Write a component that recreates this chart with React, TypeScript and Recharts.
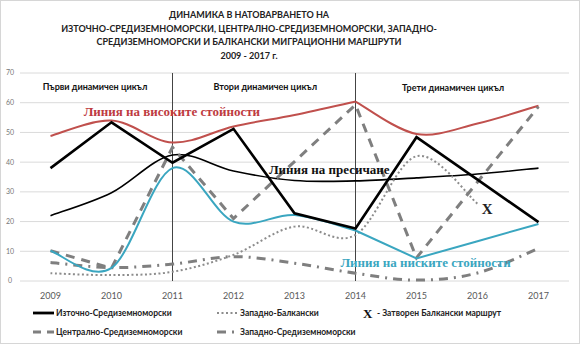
import React from "react"
import {
  LineChart,
  Line,
  XAxis,
  YAxis,
  CartesianGrid,
  ReferenceLine,
  ReferenceDot,
} from "recharts"

const years = [2009, 2010, 2011, 2012, 2013, 2014, 2015, 2016, 2017]
const yTicks = [0, 10, 20, 30, 40, 50, 60, 70]

const eastMed = [38, 53.4, 39.8, 51.2, 22.8, 17.7, 48.4, 34.1, 19.8]
const westBalkan = [2.6, 2, 3.1, 8.8, 18.3, 15.5, 42, 26, null]
const centralMed = [10.2, 4.3, 45, 21, 40.2, 59.3, 7.8, 33.3, 58.7]
const westMed = [6.2, 4.5, 5.7, 8.2, 6, 2.6, 0.3, 2.7, 11]

// hand-drawn guide lines on top of the series
const highLine = [48.8, 54, 46.6, 52, 55.9, 60.4, 49.5, 53, 59]
const crossLine = [22, 29.7, 42.4, 37, 33.8, 33.7, 34.7, 36, 38]
const lowLine = [10.2, 4.4, 38, 20, 22.2, 17, 7.6, 13.4, 19.2]

const titleLines = [
  "ДИНАМИКА В НАТОВАРВАНЕТО НА",
  "ИЗТОЧНО-СРЕДИЗЕМНОМОРСКИ, ЦЕНТРАЛНО-СРЕДИЗЕМНОМОРСКИ, ЗАПАДНО-",
  "СРЕДИЗЕМНОМОРСКИ И БАЛКАНСКИ МИГРАЦИОННИ МАРШРУТИ",
  "2009 - 2017 г.",
]

const cycles = [
  { x: 2009.73, y: 65.3, text: "Първи динамичен цикъл" },
  { x: 2012.52, y: 65.3, text: "Втори динамичен цикъл" },
  { x: 2015.6, y: 64.9, text: "Трети динамичен цикъл" },
]

const notes = [
  { x: 2010.99, y: 57, text: "Линия на високите стойности", color: "#be3b3f" },
  { x: 2013.57, y: 37.7, text: "Линия на пресичане", color: "#111" },
  { x: 2015.15, y: 6.1, text: "Линия на ниските стойности", color: "#3aa6c0" },
  { x: 2016.16, y: 24.2, text: "X", color: "#222" },
]

const data = years.map((year, i) => ({
  year,
  eastMed: eastMed[i],
  westBalkan: westBalkan[i],
  centralMed: centralMed[i],
  westMed: westMed[i],
  highA: year <= 2014 ? highLine[i] : null,
  highB: year >= 2014 ? highLine[i] : null,
  cross: crossLine[i],
  lowA: year <= 2014 ? lowLine[i] : null,
  lowB: year >= 2014 ? lowLine[i] : null,
}))

// Excel-like smoothed line (Catmull-Rom as bezier)
function smooth(context: any) {
  let pts: number[][] = []
  return {
    areaStart() {},
    areaEnd() {},
    lineStart() {
      pts = []
    },
    point(x: number, y: number) {
      pts.push([+x, +y])
    },
    lineEnd() {
      if (!pts.length) return
      context.moveTo(pts[0][0], pts[0][1])
      for (let i = 0; i < pts.length - 1; i++) {
        const p0 = pts[i - 1] || pts[i]
        const p1 = pts[i]
        const p2 = pts[i + 1]
        const p3 = pts[i + 2] || p2
        context.bezierCurveTo(
          p1[0] + (p2[0] - p0[0]) / 6,
          p1[1] + (p2[1] - p0[1]) / 6,
          p2[0] - (p3[0] - p1[0]) / 6,
          p2[1] - (p3[1] - p1[1]) / 6,
          p2[0],
          p2[1]
        )
      }
    },
  }
}

const legendItems = [
  { label: "Източно-Средиземноморски", color: "#000", width: 2.8, dash: undefined, x: 33, y: 313 },
  { label: "Западно-Балкански", color: "#8c8c8c", width: 2, dash: "2 2.5", x: 217, y: 313 },
  { label: "Централно-Средиземноморски", color: "#7f7f7f", width: 3, dash: "8 6", x: 33, y: 332 },
  { label: "Западно-Средиземноморски", color: "#7f7f7f", width: 3, dash: "9 6 2 6", x: 217, y: 332 },
]

const sans = "Lato, 'Open Sans', sans-serif"
const serif = "'Liberation Serif', 'DejaVu Serif', serif"

function ChartLegend() {
  return (
    <svg width={580} height={344} style={{ position: "absolute", left: -1, top: -1, pointerEvents: "none" }}>
      {legendItems.map((it) => (
        <g key={it.label}>
          <line
            x1={it.x}
            x2={it.x + 21}
            y1={it.y}
            y2={it.y}
            stroke={it.color}
            strokeWidth={it.width}
            strokeDasharray={it.dash}
          />
          <text x={it.x + 23} y={it.y} dy="0.35em" fontSize={8.5} fontWeight={700} fontFamily={sans} fill="#222">
            {it.label}
          </text>
        </g>
      ))}
      <text x={363} y={313} dy="0.35em" fontSize={13} fontWeight={700} fontFamily={serif} fill="#111">
        X
      </text>
      <text x={377} y={313} dy="0.35em" fontSize={8.5} fontWeight={700} fontFamily={sans} fill="#222">
        - Затворен Балкански маршрут
      </text>
    </svg>
  )
}

const noteLabel = (text: string, color: string, size: number, family: string) => (props: any) => {
  const vb = props.viewBox || {}
  const cx = vb.x + (vb.width || 0) / 2
  const cy = vb.y + (vb.height || 0) / 2
  return (
    <text x={cx} y={cy} dy="0.35em" textAnchor="middle" fontSize={size} fontWeight={700} fontFamily={family} fill={color}>
      {text}
    </text>
  )
}

export default function App() {
  return (
    <div
      style={{
        position: "absolute",
        left: 0,
        top: 0,
        width: 580,
        height: 344,
        background: "#fff",
        border: "1px solid #d6d6d6",
        boxSizing: "border-box",
        overflow: "hidden",
      }}
    >
      <div
        style={{
          position: "absolute",
          top: 7,
          left: 0,
          width: 496,
          textAlign: "center",
          fontFamily: sans,
          fontWeight: 700,
          fontSize: 9,
          lineHeight: "13.5px",
          color: "#222",
        }}
      >
        {titleLines.map((t) => (
          <div key={t}>{t}</div>
        ))}
      </div>
      <div style={{ position: "absolute", left: -1, top: -1 }}>
        <LineChart width={580} height={344} data={data} margin={{ top: 73, right: 11, bottom: 43, left: 0 }}>
          <CartesianGrid stroke="#dadada" vertical={false} />
          <XAxis
            dataKey="year"
            type="number"
            domain={[2008.5, 2017.5]}
            ticks={years}
            axisLine={false}
            tickLine={false}
            tick={{ fontSize: 9, fill: "#595959", fontFamily: sans }}
            tickMargin={6}
            height={20}
          />
          <YAxis
            domain={[0, 70]}
            ticks={yTicks}
            width={20}
            axisLine={false}
            tickLine={false}
            tick={{ fontSize: 7, fill: "#777", fontFamily: sans, textAnchor: "middle" }}
            tickMargin={-2}
            dx={-6}
          />
          <ReferenceLine x={2011} stroke="#444" strokeWidth={1} />
          <ReferenceLine x={2014} stroke="#444" strokeWidth={1} />

          <Line dataKey="highA" type={smooth as any} stroke="#c0504d" strokeWidth={2} dot={false} isAnimationActive={false} />
          <Line dataKey="highB" type={smooth as any} stroke="#c0504d" strokeWidth={2} dot={false} isAnimationActive={false} />
          <Line dataKey="cross" type={smooth as any} stroke="#000" strokeWidth={1.6} dot={false} isAnimationActive={false} />
          <Line dataKey="westMed" type={smooth as any} stroke="#7f7f7f" strokeWidth={3} strokeDasharray="9 6 2 6" dot={false} isAnimationActive={false} />
          <Line dataKey="westBalkan" type={smooth as any} stroke="#8c8c8c" strokeWidth={2} strokeDasharray="2 2.5" dot={false} isAnimationActive={false} />
          <Line dataKey="centralMed" type="linear" stroke="#7f7f7f" strokeWidth={3} strokeDasharray="9 7" dot={false} isAnimationActive={false} />
          <Line dataKey="lowA" type={smooth as any} stroke="#3aa6c0" strokeWidth={2} dot={false} isAnimationActive={false} />
          <Line dataKey="lowB" type="linear" stroke="#3aa6c0" strokeWidth={2} dot={false} isAnimationActive={false} />
          <Line dataKey="eastMed" type="linear" stroke="#000" strokeWidth={2.6} dot={false} isAnimationActive={false} />

          {cycles.map((c) => (
            <ReferenceDot
              key={c.text}
              x={c.x}
              y={c.y}
              r={0}
              fill="none"
              stroke="none"
              label={noteLabel(c.text, "#111", 9, sans)}
            />
          ))}
          {notes.map((n) => (
            <ReferenceDot
              key={n.text}
              x={n.x}
              y={n.y}
              r={0}
              fill="none"
              stroke="none"
              label={noteLabel(n.text, n.color, n.text === "X" ? 15 : 13, serif)}
            />
          ))}
        </LineChart>
      </div>
      <ChartLegend />
    </div>
  )
}
